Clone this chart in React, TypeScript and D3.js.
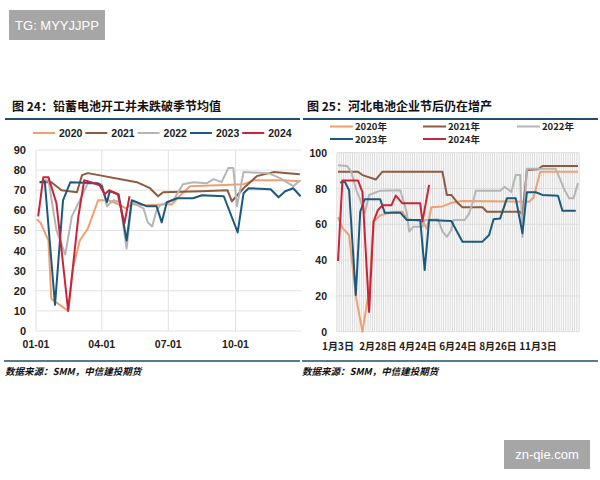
import * as d3 from "d3";

// ---- data ----
const YEARS = ["2020", "2021", "2022", "2023", "2024"];
const COLORS = ["#ef9f72", "#8e5b3e", "#b5b5b5", "#1c5a7d", "#c9243a"];

// 图24: weekly operating rate (%), [MM-DD, value]
const LEAD_2020: [string, number][] = [
  ["01-02", 55.5], ["01-07", 54], ["01-18", 45], ["01-22", 16], ["02-14", 10], ["02-21", 32],
  ["03-02", 45], ["03-13", 51], ["03-27", 65], ["04-10", 65], ["04-24", 63], ["05-04", 61],
  ["05-12", 63], ["06-01", 62.5], ["06-29", 63], ["07-06", 63], ["07-16", 67], ["07-31", 72],
  ["09-06", 72.5], ["10-12", 73], ["10-27", 75], ["12-06", 75], ["12-28", 74.5],
];
const LEAD_2021: [string, number][] = [
  ["01-06", 74], ["01-22", 74], ["02-05", 70], ["02-26", 69], ["03-05", 77.5], ["03-13", 78.5],
  ["05-19", 74], ["06-06", 71], ["06-17", 67], ["06-24", 69], ["08-15", 69.5], ["09-20", 70],
  ["09-26", 64.5], ["10-12", 71], ["10-30", 77], ["11-22", 79], ["12-28", 78],
];
const LEAD_2022: [string, number][] = [
  ["01-11", 75], ["01-18", 75], ["01-29", 50], ["02-10", 38], ["02-19", 57], ["03-02", 65],
  ["03-13", 73.5], ["04-01", 73], ["04-08", 62], ["04-17", 65], ["04-26", 64], ["05-05", 41],
  ["05-12", 64], ["05-28", 61], ["06-03", 54], ["06-09", 52], ["06-15", 60], ["06-20", 62.5],
  ["07-08", 65], ["07-21", 73], ["08-04", 74], ["08-23", 73.5], ["09-01", 75.5], ["09-12", 74],
  ["09-21", 81], ["09-28", 81], ["10-03", 62], ["10-12", 79], ["11-15", 78.5], ["12-01", 76],
  ["12-19", 72], ["12-29", 75],
];
const LEAD_2023: [string, number][] = [
  ["01-06", 74], ["01-13", 74.5], ["01-27", 13], ["02-07", 65], ["02-17", 74], ["03-27", 73.5],
  ["04-01", 72], ["04-08", 64], ["04-12", 69.5], ["04-24", 68], ["05-05", 45], ["05-12", 65],
  ["05-19", 64], ["06-02", 62], ["06-15", 62], ["06-22", 54], ["06-29", 64], ["07-13", 66],
  ["08-04", 66], ["08-16", 67.5], ["09-15", 67], ["10-04", 49], ["10-12", 68.5], ["10-19", 71],
  ["11-18", 70.5], ["11-29", 66.5], ["12-08", 69.5], ["12-19", 71], ["12-29", 67],
];
const LEAD_2024: [string, number][] = [
  ["01-04", 57], ["01-11", 76.5], ["01-18", 76.5], ["01-29", 63.5], ["02-14", 10], ["02-28", 57],
  ["03-08", 75], ["03-17", 74], ["03-29", 72.5], ["04-05", 68], ["04-11", 70], ["04-23", 68],
  ["05-02", 53.5], ["05-09", 67],
];
const LEAD_SERIES = [LEAD_2020, LEAD_2021, LEAD_2022, LEAD_2023, LEAD_2024];
const LEAD_Y_TICKS = [0, 10, 20, 30, 40, 50, 60, 70, 80, 90];
const LEAD_X_TICKS = ["01-01", "04-01", "07-01", "10-01"];

// 图25: Hebei battery plants, [category index, value]
const HEBEI_COUNT = 109;
const HEBEI_X_LABELS = ["1月3日", "2月28日", "4月24日", "6月24日", "8月26日", "11月3日"];
const HEBEI_LABEL_EVERY = 18;
const HEBEI_Y_TICKS = [0, 20, 40, 60, 80, 100];
const HEBEI_2020: [number, number][] = [
  [0, 64], [2, 58], [5, 54], [8, 20], [11, 0], [14, 23], [16, 61.5], [19, 65], [25, 67], [29, 67],
  [31, 63], [38, 61.5], [40, 57.5], [42, 69.5], [47, 70], [51, 72], [56, 73], [86, 72.6],
  [88, 75], [91, 89.4], [108, 89.4],
];
const HEBEI_2021: [number, number][] = [
  [0, 89.4], [9, 89.4], [11, 87.5], [17, 85], [20, 89.4], [47, 89.4], [49, 76.4], [51, 76.4],
  [54, 71.7], [56, 69.5], [65, 69.5], [67, 67], [82, 67], [83, 65], [85, 90.3], [90, 90.7],
  [92, 92.6], [108, 92.6],
];
const HEBEI_2022: [number, number][] = [
  [0, 93], [4, 92.6], [6, 89.4], [8, 80], [10, 73.6], [12, 66], [14, 76.4], [19, 78.8], [28, 79],
  [30, 70.8], [31, 66], [32, 56], [34, 58.7], [38, 58.7], [39, 62.4], [45, 62.8], [47, 56],
  [49, 53], [51, 56.8], [52, 62.4], [57, 62.4], [59, 66], [61, 73.6], [62, 78.8], [73, 78.8],
  [75, 81], [78, 78], [80, 87.5], [82, 87.5], [83, 53], [85, 91], [98, 91], [102, 79],
  [104, 74.5], [106, 74.5], [108, 83],
];
const HEBEI_2023: [number, number][] = [
  [1, 83.2], [3, 84], [5, 79], [8, 20.5], [10, 67], [12, 74], [19, 74], [21, 66.5], [28, 66.5],
  [31, 62.4], [37, 62.4], [39, 34.5], [41, 62.4], [51, 61.8], [56, 50.3], [65, 50.3], [68, 54],
  [70, 62.8], [73, 63.3], [76, 74.5], [80, 74.5], [83, 55], [85, 77.9], [89, 77.9], [92, 76.4],
  [99, 76], [101, 67.6], [107, 67.6],
];
const HEBEI_2024: [number, number][] = [
  [0, 39.5], [2, 84.5], [9, 84.5], [11, 78], [14, 11], [16, 61.5], [18, 68], [20, 70.6],
  [24, 70.6], [26, 76], [29, 71.7], [37, 71.7], [38, 61.5], [41, 82],
];
const HEBEI_SERIES = [HEBEI_2020, HEBEI_2021, HEBEI_2022, HEBEI_2023, HEBEI_2024];

const SOURCE = "数据来源：SMM，中信建投期货";
const FONT = "'Liberation Sans', 'Noto Sans CJK SC', sans-serif";
const CJK = "'Noto Sans CJK SC', 'Liberation Sans', sans-serif";
const RULE = "#1f4f6b";
const GRID = "#e2e2e2";

const parseDay = d3.timeParse("%Y-%m-%d");
const toDate = (s: string) => parseDay(`2001-${s}`) as Date;

function LeadChart() {
  const x = d3.scaleTime().domain([toDate("01-01"), toDate("12-31")]).range([36, 302]);
  const y = d3.scaleLinear().domain([0, 90]).range([331, 150]);
  const line = d3
    .line<[string, number]>()
    .x((d) => x(toDate(d[0])))
    .y((d) => y(d[1]));

  return (
    <g>
      <text x={12} y={111} fontFamily={CJK} fontWeight="bold" fontSize={12} fill="#111">
        图 24：铅蓄电池开工并未跌破季节均值
      </text>
      <line x1={5} x2={300} y1={119} y2={119} stroke={RULE} strokeWidth={2} />

      {/* legend */}
      {YEARS.map((yr, i) => (
        <g key={yr} transform={`translate(${33 + i * 52.3},133)`}>
          <line x1={0} x2={22} y1={0} y2={0} stroke={COLORS[i]} strokeWidth={2} />
          <text x={26} y={4} fontFamily={FONT} fontWeight="bold" fontSize={10.5} fill="#222">
            {yr}
          </text>
        </g>
      ))}

      {/* grid */}
      {LEAD_Y_TICKS.map((t) => (
        <line key={t} x1={36} x2={301} y1={y(t)} y2={y(t)} stroke={GRID} strokeWidth={1} />
      ))}
      {LEAD_X_TICKS.map((t) => (
        <line key={t} x1={x(toDate(t))} x2={x(toDate(t))} y1={150} y2={331} stroke={GRID} />
      ))}

      {LEAD_SERIES.map((s, i) => (
        <path key={i} d={line(s) ?? ""} fill="none" stroke={COLORS[i]} strokeWidth={2} strokeLinejoin="round" />
      ))}

      {LEAD_Y_TICKS.map((t) => (
        <text key={t} x={26} y={y(t) + 4} textAnchor="end" fontFamily={FONT} fontWeight="bold" fontSize={11} fill="#222">
          {t}
        </text>
      ))}
      {LEAD_X_TICKS.map((t) => (
        <text key={t} x={x(toDate(t))} y={348} textAnchor="middle" fontFamily={FONT} fontWeight="bold" fontSize={10.5} fill="#222">
          {t}
        </text>
      ))}

      <line x1={4} x2={300} y1={361} y2={361} stroke={RULE} strokeWidth={1.5} />
      <text x={5} y={375} fontFamily={CJK} fontStyle="italic" fontWeight="bold" fontSize={9.5} fill="#111">
        {SOURCE}
      </text>
    </g>
  );
}

function HebeiChart() {
  const x = d3.scaleLinear().domain([0, HEBEI_COUNT - 1]).range([338, 578]);
  const y = d3.scaleLinear().domain([0, 100]).range([331.7, 152.7]);
  const line = d3
    .line<[number, number]>()
    .x((d) => x(d[0]))
    .y((d) => y(d[1]));
  const cats = d3.range(HEBEI_COUNT + 1);
  const legendPos = [
    [330, 126.5], [423, 126.5], [517, 126.5], [330, 139], [423, 139],
  ];

  return (
    <g>
      <text x={307} y={111} fontFamily={CJK} fontWeight="bold" fontSize={12} fill="#111">
        图 25：河北电池企业节后仍在增产
      </text>
      <line x1={303} x2={598} y1={119} y2={119} stroke={RULE} strokeWidth={2} />

      {YEARS.map((yr, i) => (
        <g key={yr} transform={`translate(${legendPos[i][0]},${legendPos[i][1]})`}>
          <line x1={0} x2={23} y1={0} y2={0} stroke={COLORS[i]} strokeWidth={2} />
          <text x={25} y={3.5} fontFamily={CJK} fontWeight="bold" fontSize={9.5} fill="#222">
            {yr}年
          </text>
        </g>
      ))}

      {cats.map((c) => (
        <line key={c} x1={x(c - 0.5)} x2={x(c - 0.5)} y1={152.7} y2={331.7} stroke="#d4d4d4" strokeWidth={0.9} />
      ))}
      {HEBEI_Y_TICKS.map((t) => (
        <line key={t} x1={x(-0.5)} x2={x(HEBEI_COUNT - 0.5)} y1={y(t)} y2={y(t)} stroke="#dcdcdc" />
      ))}

      {HEBEI_SERIES.map((s, i) => (
        <path key={i} d={line(s) ?? ""} fill="none" stroke={COLORS[i]} strokeWidth={2} strokeLinejoin="round" />
      ))}

      {HEBEI_Y_TICKS.map((t) => (
        <text key={t} x={327} y={y(t) + 4} textAnchor="end" fontFamily={FONT} fontWeight="bold" fontSize={10.5} fill="#222">
          {t}
        </text>
      ))}
      {HEBEI_X_LABELS.map((l, i) => (
        <text key={l} x={x(i * HEBEI_LABEL_EVERY)} y={350} textAnchor="middle" fontFamily={CJK} fontWeight="bold" fontSize={10} fill="#222">
          {l}
        </text>
      ))}

      <line x1={302} x2={598} y1={361} y2={361} stroke={RULE} strokeWidth={1.5} />
      <text x={302} y={375} fontFamily={CJK} fontStyle="italic" fontWeight="bold" fontSize={9.5} fill="#111">
        {SOURCE}
      </text>
    </g>
  );
}

export default function App() {
  return (
    <svg
      width={600}
      height={480}
      style={{ position: "absolute", left: 0, top: 0, background: "#fff" }}
    >
      <rect width={600} height={480} fill="#fff" />
      <rect x={9} y={10} width={96} height={30} fill="#a6a6a6" />
      <text x={57} y={30} textAnchor="middle" fontFamily={FONT} fontSize={13} fill="#fff">
        TG: MYYJJPP
      </text>
      <LeadChart />
      <HebeiChart />
      <rect x={504} y={440} width={86} height={29} fill="#a6a6a6" />
      <text x={547} y={459} textAnchor="middle" fontFamily={FONT} fontSize={13} fill="#fff">
        zn-qie.com
      </text>
    </svg>
  );
}
